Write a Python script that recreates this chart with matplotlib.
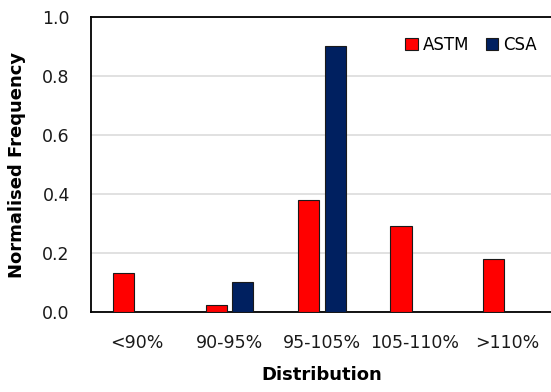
import numpy as np
import matplotlib.pyplot as plt

plt.rcParams['font.family'] = ['DejaVu Sans']

categories = ["<90%", "90-95%", "95-105%", "105-110%", ">110%"]
astm = [0.133, 0.023, 0.378, 0.290, 0.179]
csa = [0.0, 0.100, 0.901, 0.0, 0.0]

fig = plt.figure(figsize=(5.51, 3.92), dpi=100)
ax = fig.add_axes([0.1646, 0.2048, 0.839, 0.751])

x = np.arange(len(categories))
w = 0.228
ax.bar(x - w / 2 - 0.03, astm, w, color="#FF0000", edgecolor="#1a1a1a",
       linewidth=0.8, label="ASTM", zorder=3)
ax.bar(x + w / 2 + 0.03, csa, w, color="#002060", edgecolor="#1a1a1a",
       linewidth=0.8, label="CSA", zorder=3)

ax.set_xlim(-0.5, len(categories) - 0.5)
ax.set_ylim(0, 1.0)
yt = np.arange(0, 1.01, 0.2)
ax.set_yticks(yt)
ax.set_yticklabels([f"{v:.1f}" for v in yt])
ax.set_xticks(x)
ax.set_xticklabels(categories)
ax.tick_params(axis="x", length=0, pad=16, labelsize=12.5, colors="#1a1a1a")
ax.tick_params(axis="y", length=0, pad=15, labelsize=12.5, colors="#1a1a1a")

ax.grid(axis="y", color="#dcdcdc", linewidth=1.2, zorder=0)
for s in ["left", "top", "bottom"]:
    ax.spines[s].set_color("black")
    ax.spines[s].set_linewidth(1.3)
ax.spines["right"].set_visible(False)

ax.set_xlabel("Distribution", fontsize=13, fontweight="bold", labelpad=10)
ax.set_ylabel("Normalised Frequency", fontsize=13, fontweight="bold", labelpad=12)

ax.legend(loc="upper right", bbox_to_anchor=(0.98, 0.96), ncol=2, frameon=False,
          fontsize=12, handlelength=0.75, handleheight=0.75, handletextpad=0.3,
          columnspacing=1.0, borderaxespad=0)

fig.savefig("out.png", dpi=100)
